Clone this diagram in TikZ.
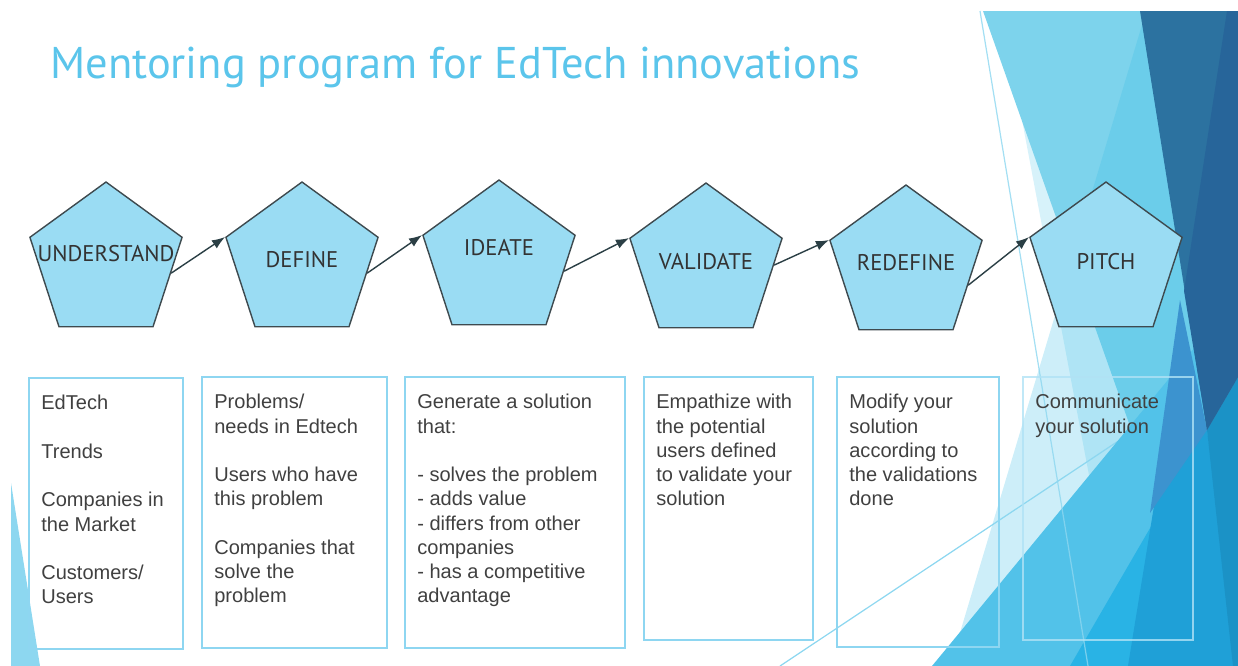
\documentclass[tikz,border=0pt]{standalone}
\usepackage{fontspec}
\setmainfont{Liberation Sans}
\newfontfamily\stagefont{PT Sans}
\usetikzlibrary{shapes.geometric,arrows.meta,calc}

\definecolor{titleblue}{HTML}{5BC5EB}
\definecolor{stagefill}{HTML}{9ADCF3}
\definecolor{stageline}{HTML}{3E4A4F}
\definecolor{stagetext}{HTML}{333333}
\definecolor{cardline}{HTML}{8ED6F1}
\definecolor{bodytext}{HTML}{404040}
\definecolor{arrowcol}{HTML}{2B3F45}
% facets on the right
\definecolor{facetlight}{HTML}{7DD3EC}
\definecolor{facetsoft}{HTML}{36BCE6}
\definecolor{facetmid}{HTML}{52C2E9}
\definecolor{facetdark}{HTML}{2C72A0}
\definecolor{facetdeep}{HTML}{27659A}
\definecolor{facetband}{HTML}{3C93CF}
\definecolor{facetbright}{HTML}{29B3E5}
\definecolor{facetvivid}{HTML}{1FA0D7}
\definecolor{facetteal}{HTML}{1B92C6}
\definecolor{facetline}{HTML}{8DD7F0}

\newcommand{\stagename}[1]{\makebox[0pt]{#1}}

\tikzset{
  stage/.style={regular polygon, regular polygon sides=5, minimum size=3.2cm,
    inner sep=0pt, fill=stagefill, draw=stageline, line width=0.8pt,
    font=\stagefont\fontsize{12.9}{14}\selectfont, text=stagetext},
  lift/.style={text depth=#1},
  card/.style={draw=cardline, line width=1.1pt, anchor=north west, inner sep=0pt},
  cardtext/.style={anchor=north west, align=left, inner sep=0pt,
    font=\fontsize{11.4}{13.8}\selectfont, text=bodytext},
  flow/.style={-{Latex[length=7.5pt,width=5.5pt]}, line width=0.8pt, draw=arrowcol},
}

\begin{document}
\begin{tikzpicture}[x=0.02cm, y=-0.02cm]
	\useasboundingbox (0,0) rectangle (1238,666);

	% background facets
	\fill[facetsoft, opacity=0.2] (1022,120) -- (1125,666) -- (1238,666) -- (1238,120) -- cycle;
	\fill[facetlight] (983,11) -- (1238,11) -- (1238,666) -- (1215,666) -- cycle;
	\fill[facetsoft, opacity=0.25] (1142,25) -- (950,666) -- (1238,666) -- (1238,25) -- cycle;
	\draw[facetline, line width=0.7pt] (780,666) -- (1180,400);
	\fill[facetmid] (932,666) -- (1238,295) -- (1238,666) -- cycle;
	\fill[facetbright] (1070,666) -- (1207,430) -- (1238,430) -- (1238,666) -- cycle;
	\fill[facetvivid] (1128,666) -- (1172,395) -- (1207,430) -- (1238,666) -- cycle;
	\fill[facetband] (1180,300) -- (1207,430) -- (1150,513) -- cycle;
	\fill[facetteal] (1207,430) -- (1238,377) -- (1238,666) -- (1233,666) -- cycle;
	\fill[facetdark] (1140,11) -- (1238,11) -- (1238,377) -- (1207,430) -- cycle;
	\fill[facetdeep] (1227,11) -- (1238,11) -- (1238,377) -- (1207,430) -- (1184,291) -- cycle;
	\draw[facetline, line width=0.7pt, opacity=0.8] (980,11) -- (1088,666);
	\fill[facetline] (11,483) -- (40,666) -- (11,666) -- cycle;

	\node[anchor=base west, inner sep=0pt, text=titleblue,
		font=\stagefont\fontsize{25.3}{30}\selectfont] (title) at (50,78)
		{Mentoring program for EdTech innovations};

	% stages
	\node[stage, lift=10pt] (und) at (106,262) {\stagename{UNDERSTAND}};
	\node[stage, lift=3pt] (def) at (302,262) {\stagename{DEFINE}};
	\node[stage, lift=14pt] (ide) at (499,260) {\stagename{IDEATE}};
	\node[stage, lift=2pt] (val) at (706,263) {\stagename{VALIDATE}};
	\node[stage, lift=3pt] (red) at (906,265) {\stagename{REDEFINE}};
	\node[stage] (pit) at (1106,262) {\stagename{PITCH}};

	\draw[flow] ($(und.corner 5)!0.4!(und.corner 4)$) -- (def.corner 2);
	\draw[flow] ($(def.corner 5)!0.4!(def.corner 4)$) -- (ide.corner 2);
	\draw[flow] ($(ide.corner 5)!0.4!(ide.corner 4)$) -- (val.corner 2);
	\draw[flow] ($(val.corner 5)!0.3!(val.corner 4)$) -- (red.corner 2);
	\draw[flow] ($(red.corner 5)!0.5!(red.corner 4)$) -- (pit.corner 2);

	% boxes under the stages
	\node[card, minimum width=3.08cm, minimum height=5.42cm] (box1) at (28,377) {};
	\node[card, minimum width=3.70cm, minimum height=5.42cm] (box2) at (201,376) {};
	\node[card, minimum width=4.40cm, minimum height=5.42cm] (box3) at (404,376) {};
	\node[card, minimum width=3.38cm, minimum height=5.26cm] (box4) at (643,376) {};
	\node[card, minimum width=3.24cm, minimum height=5.40cm] (box5) at (836,376) {};
	\node[card, draw=cardline!70!white, opacity=0.8, minimum width=3.40cm, minimum height=5.26cm] (box6) at (1022,376) {};

	\node[cardtext] (txt1) at ([shift={(13,18)}]box1.north west)
		{EdTech\\[\baselineskip]Trends\\[\baselineskip]Companies in\\the Market\\[\baselineskip]Customers/\\Users};
	\node[cardtext] (txt2) at ([shift={(13,18)}]box2.north west)
		{Problems/\\needs in Edtech\\[\baselineskip]Users who have\\this problem\\[\baselineskip]Companies that\\solve the\\problem};
	\node[cardtext] (txt3) at ([shift={(13,18)}]box3.north west)
		{Generate a solution\\that:\\[\baselineskip]- solves the problem\\- adds value\\- differs from other\\companies\\- has a competitive\\advantage};
	\node[cardtext] (txt4) at ([shift={(13,18)}]box4.north west)
		{Empathize with\\the potential\\users defined\\to validate your\\solution};
	\node[cardtext] (txt5) at ([shift={(13,18)}]box5.north west)
		{Modify your\\solution\\according to\\the validations\\done};
	\node[cardtext] (txt6) at ([shift={(13,18)}]box6.north west)
		{Communicate\\your solution};
\end{tikzpicture}
\end{document}
